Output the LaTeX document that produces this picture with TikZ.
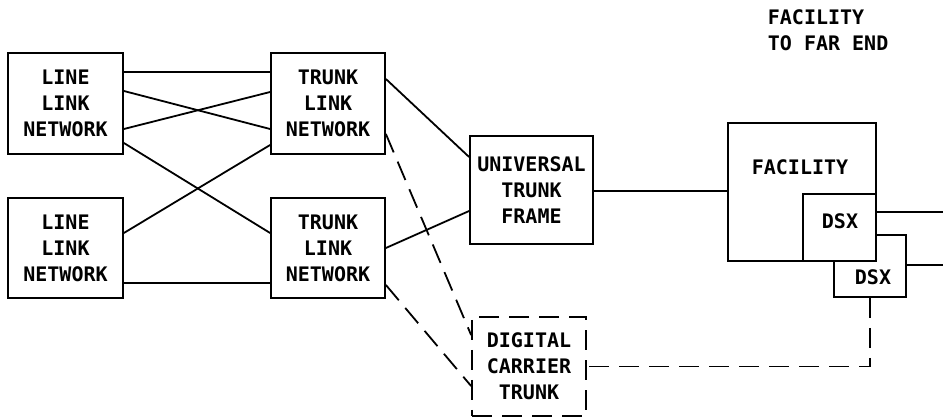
\documentclass[tikz,border=0pt]{standalone}
\usepackage{fontspec}
\newfontfamily\plotfont{DejaVu Sans Mono Bold}
\usetikzlibrary{calc}
\begin{document}
\begin{tikzpicture}[x=1pt,y=-1pt,
  line width=1.8pt,
  every node/.style={font=\plotfont\fontsize{20}{26}\selectfont, inner sep=0pt, align=center},
  blk/.style={draw, fill=white, minimum width=#1},
  blk/.default=114pt,
  dsh/.style={dash pattern=on 20pt off 10pt},
  txt/.style={draw=none, fill=none}]
\useasboundingbox (0,0) rectangle (943,419);

% switching networks
\node[blk=115pt, minimum height=101pt] (lln1) at (65.5,103.5) {LINE\\LINK\\NETWORK};
\node[blk=115pt, minimum height=100pt] (lln2) at (65.5,248) {LINE\\LINK\\NETWORK};
\node[blk, minimum height=101pt] (tln1) at (328,103.5) {TRUNK\\LINK\\NETWORK};
\node[blk, minimum height=100pt] (tln2) at (328,248) {TRUNK\\LINK\\NETWORK};

% trunk frame and carrier
\node[blk=123pt, minimum height=108pt] (utf) at (531.5,190) {UNIVERSAL\\TRUNK\\FRAME};
\node[blk, dsh, minimum height=99pt] (dct) at (529,366.5) {DIGITAL\\CARRIER\\TRUNK};

% facility with its cross-connects
\node[blk=72pt, minimum height=62pt] (dsx2) at (870,266) {};
\node[blk=148pt, minimum height=138pt] (fac) at (802,192) {};
\node[blk=73pt, minimum height=67pt] (dsx1) at (839.5,227.5) {};
\node[txt] (faclabel) at (800,167.5) {FACILITY};
\node[txt] (dsx1label) at (840,221) {DSX};
\node[txt] (dsx2label) at (873,277) {DSX};
\node[txt, anchor=north west, align=left] (farend) at (767,9) {FACILITY\\TO FAR END};

\coordinate (farA) at (943,212);
\coordinate (farB) at (943,265);

% line link to trunk link
\draw (lln1.east |- 0,72) -- (tln1.west |- 0,72);
\draw (lln1.east |- 0,91) -- (tln1.west |- 0,129);
\draw (lln1.east |- 0,129) -- (tln1.west |- 0,92);
\draw (lln1.east |- 0,143) -- (tln2.west |- 0,233);
\draw (lln2.east |- 0,233) -- (tln1.west |- 0,145);
\draw (lln2.east |- 0,283) -- (tln2.west |- 0,283);

% trunk link to trunk frame
\draw (tln1.east |- 0,79) -- (utf.west |- 0,157);
\draw (tln2.east |- 0,248) -- (utf.west |- 0,211);
\draw[dsh] (tln1.east |- 0,134) -- (dct.west |- 0,335);
\draw[dsh] (tln2.east |- 0,285) -- (dct.west |- 0,386);

% toward the facility
\draw (utf.east |- 0,191) -- (fac.west |- 0,191);
\draw (dsx1.east |- 0,212) -- (farA);
\draw (dsx2.east |- 0,265) -- (farB);
\draw[dsh] (dsx2.south) |- (dct.east);
\end{tikzpicture}
\end{document}
